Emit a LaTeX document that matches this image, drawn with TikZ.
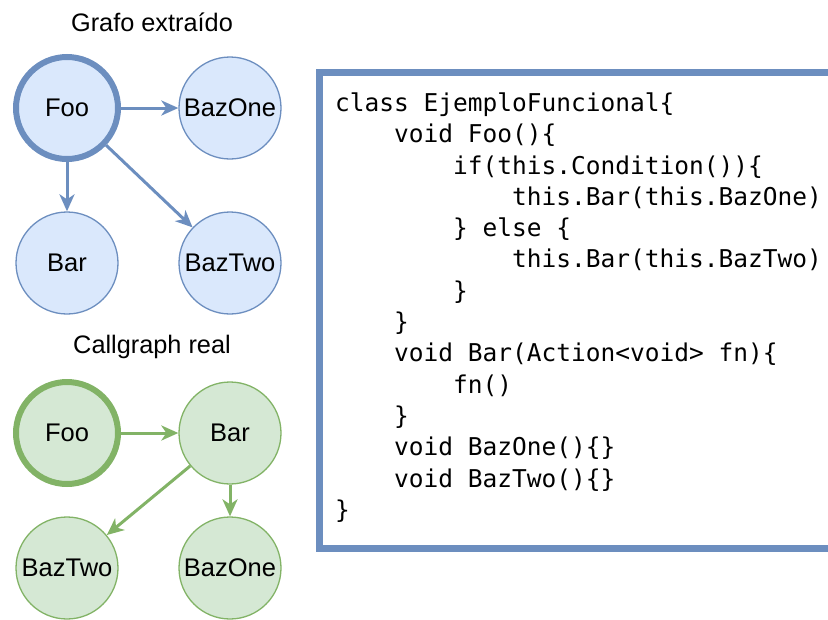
\documentclass[tikz,border=0pt]{standalone}
\usepackage{fontspec}
\setmainfont{Liberation Sans}
\newfontfamily\codefont{DejaVu Sans Mono}
\usetikzlibrary{arrows.meta}
\definecolor{blueFill}{HTML}{DAE8FC}
\definecolor{blueLine}{HTML}{6C8EBF}
\definecolor{greenFill}{HTML}{D5E8D4}
\definecolor{greenLine}{HTML}{82B366}
\newcommand{\ind}{\phantom{xxxx}}

\begin{document}
\begin{tikzpicture}[x=1pt,y=-1pt]

      \useasboundingbox (0,0) rectangle (828,619);
      \tikzset{callnode/.style={draw, circle, inner sep=0pt, minimum size=102pt, line width=1.3pt, font=\fontsize{25.5}{29}\selectfont},
               bluenode/.style={callnode, fill=blueFill, draw=blueLine},
               greennode/.style={callnode, fill=greenFill, draw=greenLine},
               rootnode/.style={line width=6pt},
               caption/.style={font=\fontsize{25.3}{29}\selectfont},
               call/.style={->, >={Stealth[length=17pt, width=15pt, inset=5pt]}, line width=3pt}}
%% Titles
      	\node[caption] (tExtr) at (152,22) {Grafo extraído};
      	\node[caption] (tReal) at (152,347) {Callgraph real};
%% Extracted graph
      	\node[bluenode, rootnode] (eFoo) at (67,108) {Foo};
      	\node[bluenode] (eBazOne) at (230,108) {BazOne};
      	\node[bluenode] (eBar) at (67,263) {Bar};
      	\node[bluenode] (eBazTwo) at (230,263) {BazTwo};
%% Real callgraph
      	\node[greennode, rootnode] (rFoo) at (67,433) {Foo};
      	\node[greennode] (rBar) at (230,433) {Bar};
      	\node[greennode] (rBazTwo) at (67,568) {BazTwo};
      	\node[greennode] (rBazOne) at (230,568) {BazOne};
%Edges
		\path [call, blueLine](eFoo) edge (eBazOne);
		\path [call, blueLine](eFoo) edge (eBar);
		\path [call, blueLine](eFoo) edge (eBazTwo);
		\path [call, greenLine](rFoo) edge (rBar);
		\path [call, greenLine](rBar) edge (rBazTwo);
		\path [call, greenLine](rBar) edge (rBazOne);
%Code
		\begin{scope}
		\clip (0,0) rectangle (828,619);
		\draw [blueLine, line width=6.5pt] (319.5,72.5) rectangle (870,548.5);
		\end{scope}
		\node[anchor=north west, inner sep=0pt, align=left, font=\codefont\fontsize{24.5}{31.3}\selectfont] (code) at (335,92.5) {%
class EjemploFuncional\{\\
\ind void Foo()\{\\
\ind\ind if(this.Condition())\{\\
\ind\ind\ind this.Bar(this.BazOne)\\
\ind\ind \} else \{\\
\ind\ind\ind this.Bar(this.BazTwo)\\
\ind\ind \}\\
\ind \}\\
\ind void Bar(Action<void> fn)\{\\
\ind\ind fn()\\
\ind \}\\
\ind void BazOne()\{\}\\
\ind void BazTwo()\{\}\\
\}};

	\end{tikzpicture}
\end{document}
